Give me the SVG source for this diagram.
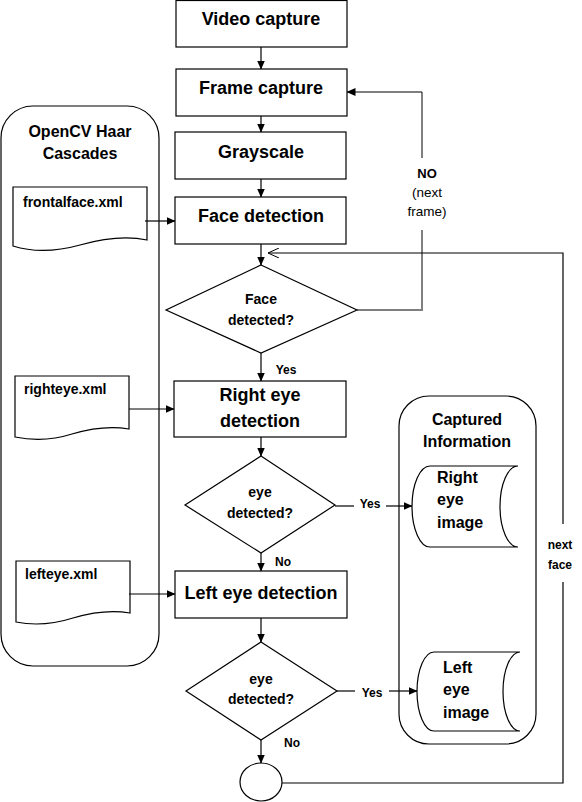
<svg xmlns="http://www.w3.org/2000/svg" width="582" height="802" viewBox="0 0 582 802">
<defs>
<marker id="arr" markerWidth="9" markerHeight="8" refX="8.5" refY="4" orient="auto" markerUnits="userSpaceOnUse"><path d="M0,0 L9,4 L0,8 Z" fill="#000"/></marker>
<marker id="open" markerWidth="12" markerHeight="10" refX="11" refY="5" orient="auto" markerUnits="userSpaceOnUse"><path d="M0,0 L11,5 L0,10" fill="none" stroke="#000" stroke-width="1"/></marker>
</defs>
<style>
text{font-family:"Liberation Sans",Arial,sans-serif;font-weight:bold;fill:#000}
.box{fill:#fff;stroke:#000;stroke-width:1.2}
.c{text-anchor:middle}
.t18{font-size:18px}
.t14{font-size:14px}
.t16{font-size:16px}
.t12{font-size:12px}
.ln{fill:none;stroke:#000;stroke-width:1.2}
.gr{fill:none;stroke:#808080;stroke-width:2}
.reg{font-weight:normal}
</style>
<rect width="582" height="802" fill="#fff"/>

<g id="haar-container">
<rect class="box" x="1" y="106" width="158" height="560" rx="32" ry="32"/>
<text class="t16 c" x="80" y="137">OpenCV Haar</text>
<text class="t16 c" x="80" y="159">Cascades</text>
</g>
<g id="doc-frontalface">
<path class="box" d="M13,187 H147 V240 C128,236 105,238 80,245 C55,252 32,252 13,246 Z"/>
<text class="t14" x="23" y="207">frontalface.xml</text>
</g>
<g id="doc-righteye">
<path class="box" d="M15,376 H129 V429 C112,426 92,428 72,434 C50,441 30,440 15,437 Z"/>
<text class="t14" x="24" y="394">righteye.xml</text>
</g>
<g id="doc-lefteye">
<path class="box" d="M16,561 H130 V613 C113,610 93,612 73,618 C51,625 31,625 16,622 Z"/>
<text class="t14" x="25" y="579">lefteye.xml</text>
</g>

<g id="captured-container">
<rect class="box" x="399" y="396" width="137" height="348" rx="30" ry="30"/>
<text class="t16 c" x="467" y="425">Captured</text>
<text class="t16 c" x="467" y="447">Information</text>
</g>
<g id="right-eye-image">
<path class="box" d="M430,466 H518 A18,40.5 0 0 0 518,547 H430 A18,40.5 0 0 1 430,466 Z"/>
<text class="t16" x="437" y="483">Right</text>
<text class="t16" x="437" y="505">eye</text>
<text class="t16" x="437" y="528">image</text>
</g>
<g id="left-eye-image">
<path class="box" d="M434,652 H520 A17,39.5 0 0 0 520,731 H434 A17,39.5 0 0 1 434,652 Z"/>
<text class="t16" x="443" y="673">Left</text>
<text class="t16" x="443" y="695">eye</text>
<text class="t16" x="443" y="718">image</text>
</g>

<g id="video-capture">
<rect class="box" x="176" y="0.5" width="171" height="46.5"/>
<text class="t18 c" x="261" y="25">Video capture</text>
</g>
<g id="frame-capture">
<rect class="box" x="176" y="69" width="171" height="47"/>
<text class="t18 c" x="261" y="94">Frame capture</text>
</g>
<g id="grayscale">
<rect class="box" x="175" y="132" width="171" height="47"/>
<text class="t18 c" x="261" y="158">Grayscale</text>
</g>
<g id="face-detection">
<rect class="box" x="175" y="197" width="171" height="47"/>
<text class="t18 c" x="261" y="222">Face detection</text>
</g>
<g id="face-detected">
<polygon class="box" points="261,265 357,310 261,353 166,310"/>
<text class="t14 c" x="261" y="304">Face</text>
<text class="t14 c" x="261" y="325">detected?</text>
</g>
<g id="right-eye-detection">
<rect class="box" x="174" y="381" width="172" height="56"/>
<text class="t18 c" x="260" y="401">Right eye</text>
<text class="t18 c" x="260" y="427">detection</text>
</g>
<g id="eye-detected-1">
<polygon class="box" points="261,456 335,505 261,553 185,505"/>
<text class="t14 c" x="260" y="497">eye</text>
<text class="t14 c" x="260" y="518">detected?</text>
</g>
<g id="left-eye-detection">
<rect class="box" x="175" y="571" width="172" height="47"/>
<text class="t18 c" x="261" y="599">Left eye detection</text>
</g>
<g id="eye-detected-2">
<polygon class="box" points="261,642 337,691 261,740 186,691"/>
<text class="t14 c" x="261" y="684">eye</text>
<text class="t14 c" x="261" y="704">detected?</text>
</g>
<g id="end-circle">
<ellipse class="box" cx="261" cy="782" rx="21" ry="19"/>
</g>

<g id="connectors">
<line class="ln" x1="261" y1="47" x2="261" y2="69" marker-end="url(#arr)"/>
<line class="ln" x1="261" y1="116" x2="261" y2="132" marker-end="url(#arr)"/>
<line class="ln" x1="261" y1="179" x2="261" y2="197" marker-end="url(#arr)"/>
<line class="ln" x1="261" y1="244" x2="261" y2="265" marker-end="url(#arr)"/>
<line class="ln" x1="261" y1="353" x2="261" y2="381" marker-end="url(#arr)"/>
<line class="ln" x1="261" y1="437" x2="261" y2="456" marker-end="url(#arr)"/>
<line class="ln" x1="261" y1="553" x2="261" y2="571" marker-end="url(#arr)"/>
<line class="ln" x1="261" y1="618" x2="261" y2="642" marker-end="url(#arr)"/>
<line class="ln" x1="261" y1="740" x2="261" y2="763" marker-end="url(#arr)"/>

<line class="ln" x1="145" y1="221" x2="175" y2="221" marker-end="url(#arr)"/>
<line class="ln" x1="129" y1="409" x2="174" y2="409" marker-end="url(#arr)"/>
<line class="ln" x1="129" y1="594" x2="175" y2="594" marker-end="url(#arr)"/>

<polyline class="ln" points="357,310 422,310"/>
<line class="gr" x1="422" y1="311" x2="422" y2="230"/>
<line class="gr" x1="422" y1="158" x2="422" y2="92"/>
<polyline class="ln" points="422,92 347,92" marker-end="url(#arr)"/>

<line class="ln" x1="335" y1="506" x2="354" y2="506"/>
<line class="ln" x1="386" y1="506" x2="412" y2="506" marker-end="url(#arr)"/>
<line class="ln" x1="337" y1="691" x2="355" y2="691"/>
<line class="ln" x1="389" y1="691" x2="417" y2="691" marker-end="url(#arr)"/>

<polyline class="ln" points="282,783 563,783 563,582"/>
<polyline class="ln" points="563,524 563,253 268,253" marker-end="url(#open)"/>

<text class="t12 c" x="286" y="374">Yes</text>
<text class="t12 c" x="283" y="566">No</text>
<text class="t12 c" x="292" y="747">No</text>
<text class="t12 c" x="370" y="508">Yes</text>
<text class="t12 c" x="372" y="697">Yes</text>
<text class="t12 c" x="560" y="549">next</text>
<text class="t12 c" x="560" y="569">face</text>
<text class="c" style="font-size:13px" x="427" y="178">NO</text>
<text class="c reg" style="font-size:13.5px" x="427" y="197">(next</text>
<text class="c reg" style="font-size:13.5px" x="427" y="216">frame)</text>
</g>
</svg>
